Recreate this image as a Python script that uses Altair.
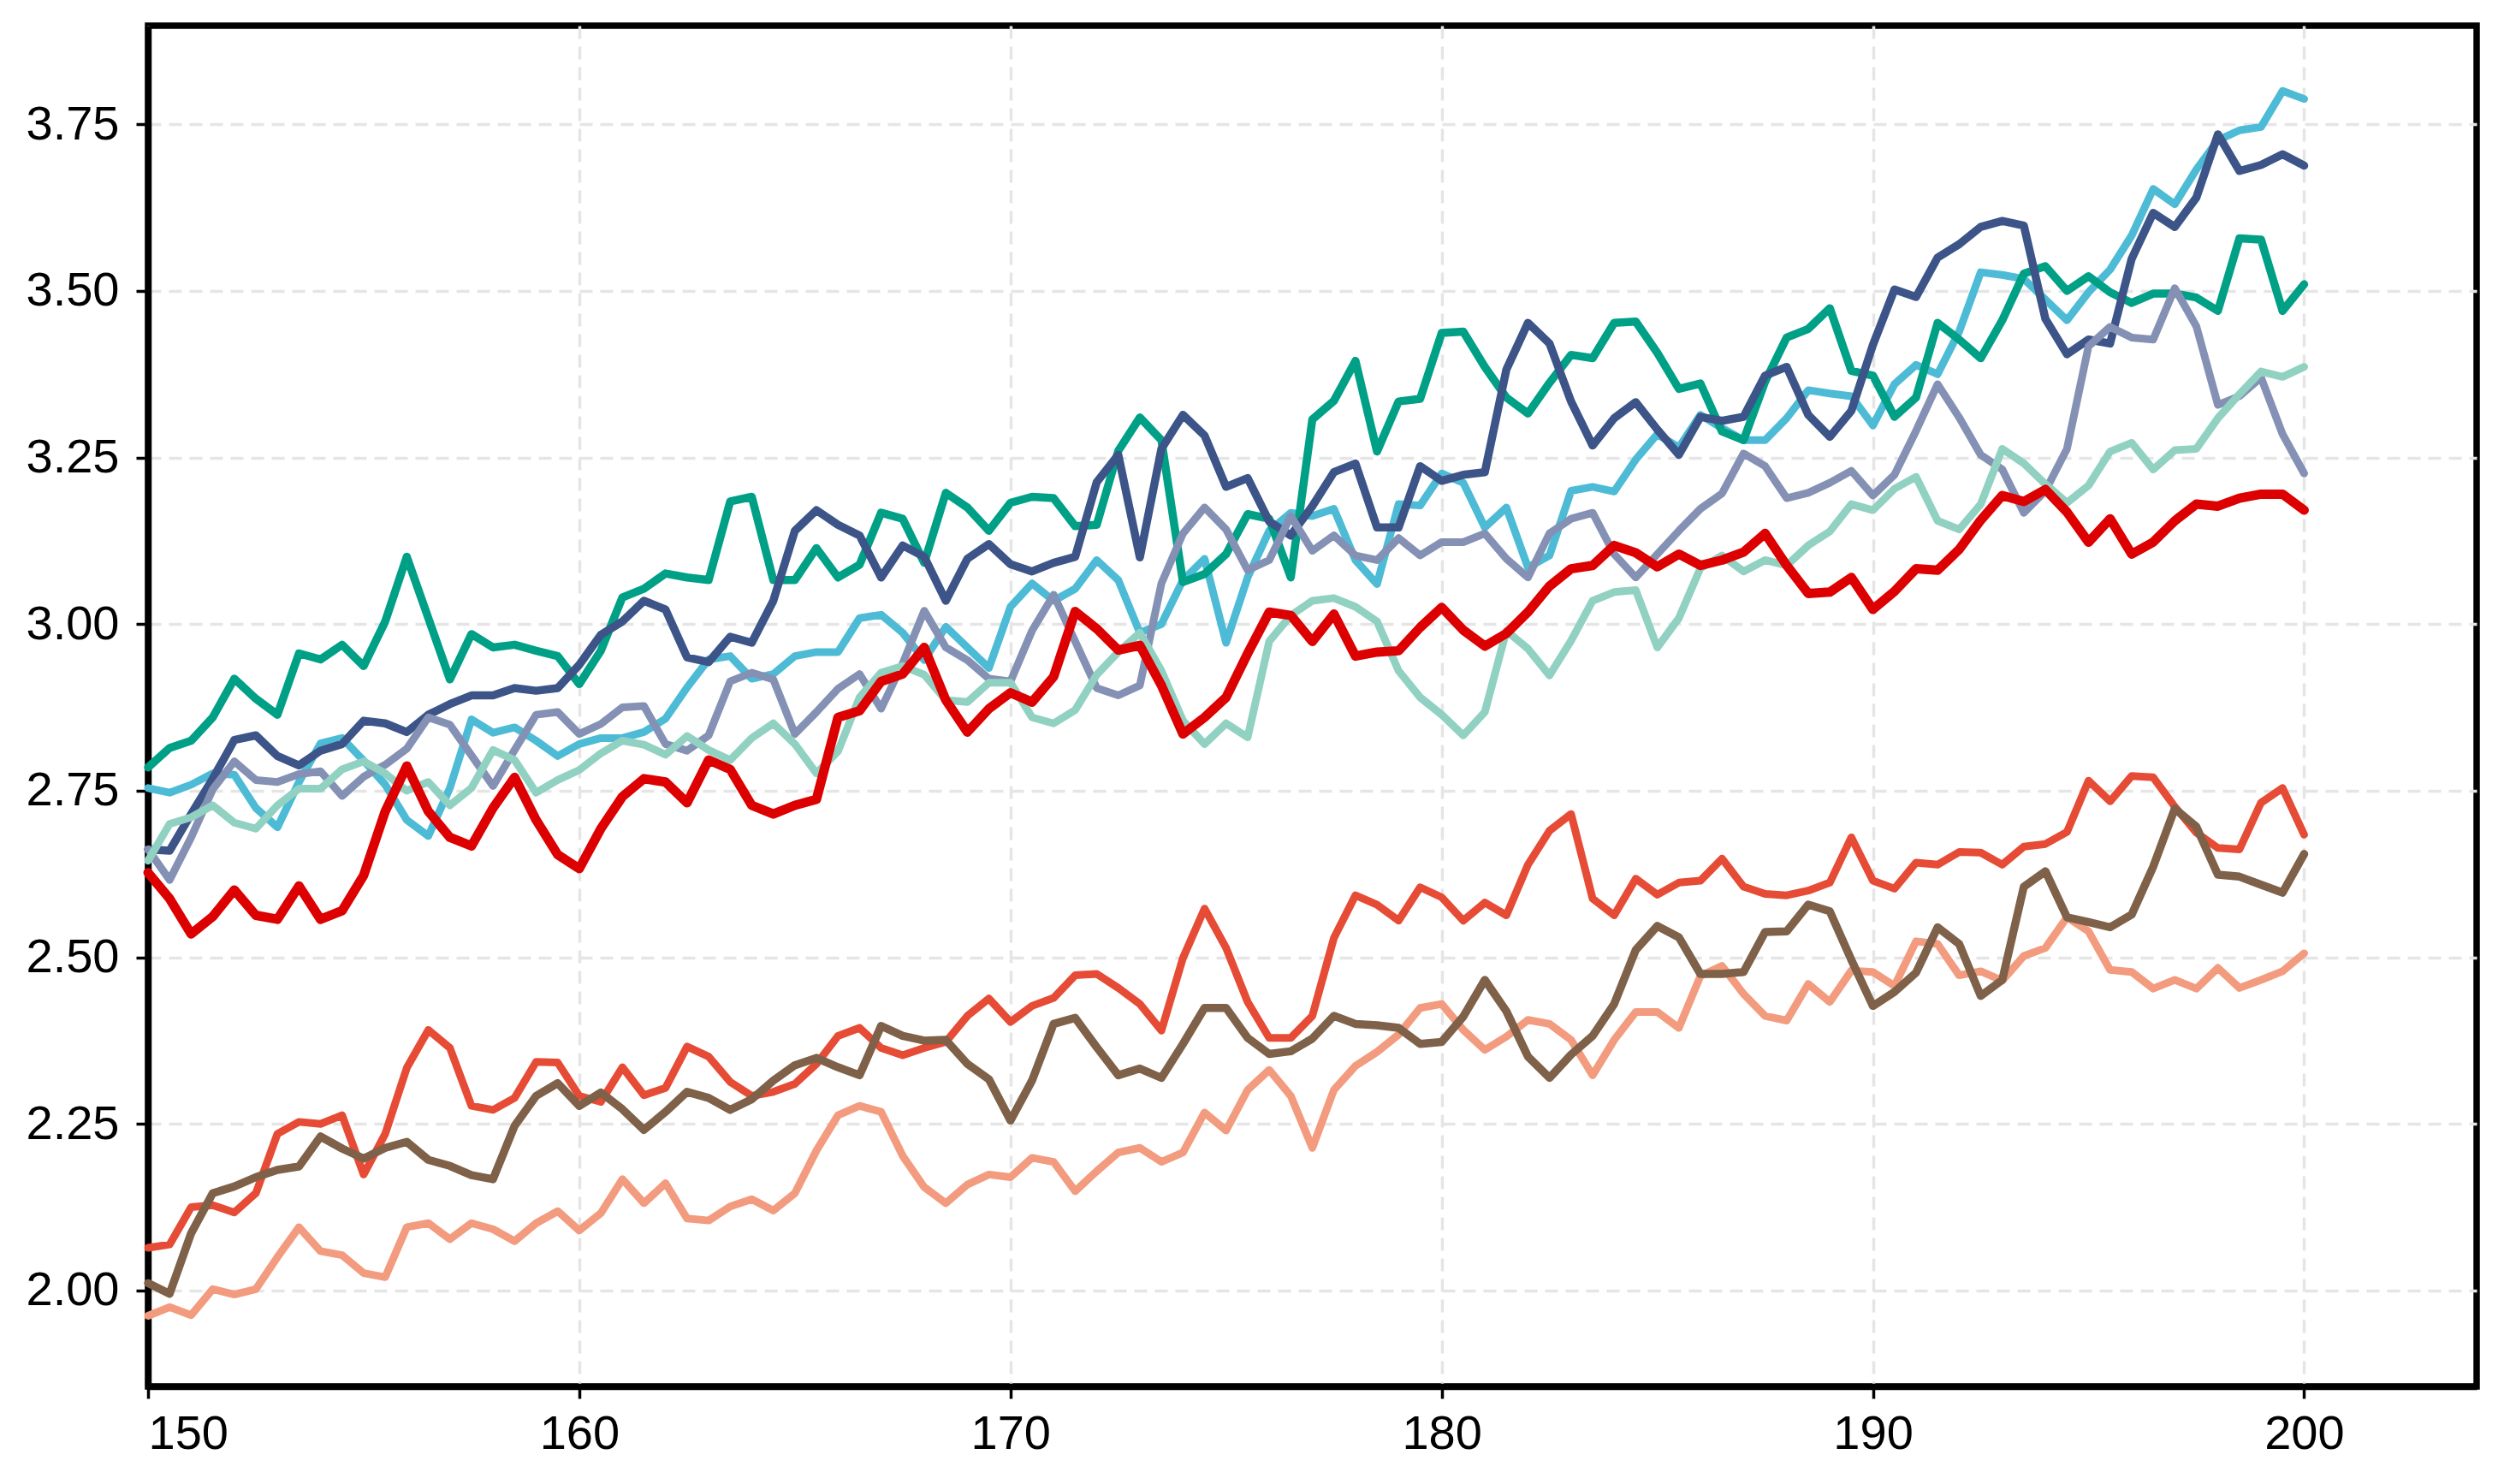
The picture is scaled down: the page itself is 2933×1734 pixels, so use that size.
import altair as alt
import pandas as pd

# x positions shared by all series (step 0.5 from 150 to 200)
x_values = [150 + 0.5 * i for i in range(101)]

x_ticks = [150, 160, 170, 180, 190, 200]
y_ticks = [2.00, 2.25, 2.50, 2.75, 3.00, 3.25, 3.50, 3.75]

s_e64b35 = [
    2.064, 2.069, 2.125, 2.128, 2.117, 2.146, 2.235, 2.253, 2.25, 2.263, 2.174, 2.235, 2.334, 2.391, 2.364, 2.277, 2.271, 2.289, 2.343, 2.342, 2.292, 2.283, 2.335, 2.293, 2.304, 2.366,
    2.351, 2.313, 2.292, 2.298, 2.31, 2.34, 2.382, 2.394, 2.364, 2.353, 2.364, 2.373, 2.412, 2.438, 2.403, 2.427, 2.439, 2.473, 2.475, 2.454, 2.43, 2.39, 2.499, 2.573, 2.514,
    2.433, 2.379, 2.379, 2.412, 2.529, 2.593, 2.579, 2.555, 2.605, 2.59, 2.555, 2.582, 2.563, 2.639, 2.69, 2.715, 2.588, 2.563, 2.618, 2.594, 2.612, 2.615, 2.648, 2.606, 2.595,
    2.593, 2.6, 2.612, 2.68, 2.615, 2.603, 2.642, 2.639, 2.658, 2.657, 2.639, 2.666, 2.67, 2.688, 2.765, 2.734, 2.772, 2.77, 2.726, 2.687, 2.664, 2.662, 2.732, 2.754, 2.684,
]
s_4dbbd5 = [
    2.754, 2.747, 2.759, 2.776, 2.774, 2.724, 2.695, 2.763, 2.821, 2.829, 2.795, 2.759, 2.706, 2.682, 2.754, 2.857, 2.837, 2.845, 2.825, 2.802, 2.82, 2.829, 2.829, 2.838, 2.858, 2.905,
    2.947, 2.952, 2.918, 2.925, 2.952, 2.958, 2.958, 3.009, 3.014, 2.987, 2.946, 2.996, 2.965, 2.934, 3.026, 3.061, 3.035, 3.053, 3.096, 3.066, 2.987, 3.0, 3.066, 3.098, 2.972,
    3.07, 3.14, 3.167, 3.162, 3.173, 3.096, 3.06, 3.18, 3.178, 3.226, 3.212, 3.145, 3.175, 3.085, 3.103, 3.2, 3.206, 3.199, 3.247, 3.285, 3.265, 3.314, 3.294, 3.276, 3.276,
    3.309, 3.351, 3.346, 3.342, 3.298, 3.36, 3.389, 3.375, 3.439, 3.528, 3.524, 3.518, 3.487, 3.456, 3.498, 3.532, 3.583, 3.653, 3.63, 3.682, 3.726, 3.741, 3.746, 3.8, 3.788,
]
s_00a087 = [
    2.785, 2.814, 2.825, 2.86, 2.918, 2.888, 2.864, 2.956, 2.947, 2.969, 2.937, 3.004, 3.101, 3.009, 2.917, 2.985, 2.965, 2.969, 2.96, 2.952, 2.91, 2.96, 3.04, 3.053, 3.076, 3.07,
    3.066, 3.184, 3.191, 3.066, 3.066, 3.114, 3.07, 3.089, 3.167, 3.158, 3.092, 3.197, 3.175, 3.14, 3.182, 3.191, 3.189, 3.147, 3.149, 3.26, 3.31, 3.276, 3.063, 3.075, 3.105,
    3.165, 3.158, 3.07, 3.307, 3.335, 3.395, 3.259, 3.334, 3.338, 3.437, 3.439, 3.386, 3.34, 3.316, 3.362, 3.404, 3.399, 3.452, 3.454, 3.407, 3.353, 3.361, 3.289, 3.276, 3.364,
    3.43, 3.443, 3.474, 3.38, 3.373, 3.311, 3.34, 3.452, 3.427, 3.399, 3.456, 3.526, 3.537, 3.5, 3.522, 3.498, 3.482, 3.496, 3.496, 3.49, 3.47, 3.579, 3.577, 3.47, 3.51,
]
s_3c5488 = [
    2.662, 2.66, 2.715, 2.768, 2.826, 2.833, 2.802, 2.788, 2.81, 2.82, 2.855, 2.851, 2.838, 2.864, 2.88, 2.893, 2.893, 2.904, 2.9, 2.904, 2.939, 2.984, 3.004, 3.035, 3.022, 2.95,
    2.943, 2.981, 2.972, 3.035, 3.14, 3.171, 3.149, 3.133, 3.07, 3.118, 3.101, 3.035, 3.098, 3.12, 3.09, 3.079, 3.092, 3.101, 3.213, 3.254, 3.10, 3.263, 3.314, 3.283, 3.206,
    3.219, 3.154, 3.133, 3.177, 3.228, 3.241, 3.145, 3.145, 3.237, 3.215, 3.224, 3.228, 3.382, 3.452, 3.421, 3.334, 3.268, 3.309, 3.333, 3.292, 3.254, 3.311, 3.305, 3.311, 3.373,
    3.386, 3.314, 3.281, 3.32, 3.419, 3.502, 3.491, 3.55, 3.57, 3.596, 3.605, 3.598, 3.458, 3.405, 3.427, 3.421, 3.548, 3.617, 3.596, 3.64, 3.735, 3.68, 3.689, 3.705, 3.688,
]
s_f39b7f = [
    1.962, 1.975, 1.963, 2.002, 1.994, 2.002, 2.05, 2.095, 2.059, 2.053, 2.026, 2.02, 2.095, 2.101, 2.077, 2.101, 2.092, 2.074, 2.101, 2.119, 2.09, 2.116, 2.167, 2.131, 2.161, 2.108,
    2.105, 2.126, 2.137, 2.12, 2.146, 2.21, 2.263, 2.277, 2.268, 2.202, 2.155, 2.131, 2.159, 2.174, 2.17, 2.199, 2.193, 2.149, 2.179, 2.207, 2.214, 2.193, 2.207, 2.267, 2.24,
    2.301, 2.331, 2.292, 2.214, 2.301, 2.337, 2.358, 2.384, 2.424, 2.43, 2.391, 2.361, 2.381, 2.406, 2.4, 2.376, 2.323, 2.376, 2.418, 2.418, 2.394, 2.472, 2.487, 2.445, 2.412,
    2.405, 2.46, 2.433, 2.48, 2.478, 2.457, 2.524, 2.52, 2.473, 2.479, 2.465, 2.502, 2.514, 2.56, 2.539, 2.481, 2.478, 2.453, 2.466, 2.453, 2.484, 2.454, 2.466, 2.479, 2.506,
]
s_8491b4 = [
    2.662, 2.616, 2.68, 2.752, 2.794, 2.766, 2.763, 2.775, 2.779, 2.742, 2.771, 2.789, 2.813, 2.86, 2.849, 2.803, 2.757, 2.811, 2.864, 2.868, 2.835, 2.85, 2.875, 2.877, 2.82, 2.81,
    2.833, 2.914, 2.927, 2.917, 2.835, 2.868, 2.903, 2.925, 2.873, 2.941, 3.02, 2.965, 2.946, 2.918, 2.914, 2.99, 3.044, 2.974, 2.904, 2.893, 2.908, 3.061, 3.136, 3.175, 3.142,
    3.081, 3.096, 3.162, 3.11, 3.133, 3.103, 3.096, 3.129, 3.103, 3.123, 3.123, 3.136, 3.098, 3.07, 3.136, 3.158, 3.167, 3.105, 3.07, 3.105, 3.14, 3.173, 3.196, 3.256, 3.237,
    3.189, 3.197, 3.212, 3.23, 3.193, 3.224, 3.29, 3.36, 3.31, 3.254, 3.232, 3.167, 3.2, 3.263, 3.417, 3.446, 3.43, 3.427, 3.504, 3.447, 3.329, 3.342, 3.37, 3.285, 3.226,
]
s_91d1c2 = [
    2.645, 2.7, 2.71, 2.728, 2.702, 2.693, 2.728, 2.753, 2.753, 2.782, 2.794, 2.776, 2.75, 2.763, 2.728, 2.754, 2.811, 2.796, 2.747, 2.766, 2.781, 2.806, 2.825, 2.819, 2.804, 2.832,
    2.811, 2.796, 2.829, 2.851, 2.82, 2.776, 2.809, 2.89, 2.927, 2.937, 2.924, 2.886, 2.883, 2.912, 2.912, 2.86, 2.851, 2.871, 2.924, 2.958, 2.987, 2.93, 2.855, 2.82, 2.851,
    2.83, 2.974, 3.013, 3.035, 3.039, 3.026, 3.004, 2.93, 2.89, 2.864, 2.833, 2.868, 2.99, 2.963, 2.923, 2.975, 3.035, 3.048, 3.051, 2.965, 3.009, 3.084, 3.103, 3.079, 3.096,
    3.088, 3.118, 3.139, 3.18, 3.171, 3.203, 3.221, 3.155, 3.142, 3.18, 3.263, 3.241, 3.21, 3.182, 3.208, 3.259, 3.272, 3.232, 3.261, 3.263, 3.309, 3.345, 3.379, 3.371, 3.386,
]
s_dc0000 = [
    2.627, 2.588, 2.535, 2.561, 2.601, 2.563, 2.557, 2.607, 2.557, 2.57, 2.623, 2.719, 2.787, 2.719, 2.68, 2.667, 2.724, 2.77, 2.706, 2.654, 2.633, 2.693, 2.741, 2.768, 2.763, 2.732,
    2.796, 2.782, 2.728, 2.715, 2.728, 2.737, 2.86, 2.87, 2.914, 2.925, 2.965, 2.886, 2.838, 2.873, 2.897, 2.883, 2.921, 3.019, 2.993, 2.961, 2.968, 2.908, 2.835, 2.86, 2.89,
    2.956, 3.018, 3.013, 2.974, 3.015, 2.952, 2.958, 2.96, 2.995, 3.025, 2.991, 2.967, 2.986, 3.018, 3.057, 3.083, 3.088, 3.118, 3.107, 3.086, 3.105, 3.088, 3.096, 3.108, 3.136,
    3.088, 3.046, 3.048, 3.07, 3.022, 3.049, 3.083, 3.081, 3.112, 3.156, 3.193, 3.184, 3.202, 3.168, 3.123, 3.158, 3.105, 3.123, 3.155, 3.18, 3.177, 3.189, 3.195, 3.195, 3.171,
]
s_7e6148 = [
    2.011, 1.995, 2.086, 2.146, 2.156, 2.17, 2.181, 2.186, 2.231, 2.213, 2.198, 2.214, 2.223, 2.196, 2.187, 2.173, 2.167, 2.247, 2.292, 2.311, 2.277, 2.297, 2.272, 2.241, 2.268, 2.298,
    2.289, 2.271, 2.287, 2.315, 2.338, 2.349, 2.335, 2.323, 2.397, 2.382, 2.375, 2.376, 2.34, 2.317, 2.255, 2.315, 2.4, 2.409, 2.365, 2.323, 2.333, 2.319, 2.37, 2.424, 2.424,
    2.379, 2.355, 2.359, 2.378, 2.412, 2.4, 2.398, 2.394, 2.37, 2.373, 2.411, 2.466, 2.419, 2.351, 2.319, 2.354, 2.382, 2.43, 2.511, 2.547, 2.53, 2.475, 2.475, 2.478, 2.538,
    2.539, 2.579, 2.569, 2.496, 2.427, 2.448, 2.477, 2.545, 2.52, 2.442, 2.466, 2.606, 2.629, 2.56, 2.553, 2.545, 2.564, 2.636, 2.723, 2.696, 2.624, 2.621, 2.609, 2.597, 2.655,
]

series = [
    ("E64B35", s_e64b35, "#E64B35", 9),
    ("4DBBD5", s_4dbbd5, "#4DBBD5", 9),
    ("00A087", s_00a087, "#00A087", 9.5),
    ("3C5488", s_3c5488, "#3C5488", 9.5),
    ("F39B7F", s_f39b7f, "#F39B7F", 9),
    ("8491B4", s_8491b4, "#8491B4", 9),
    ("91D1C2", s_91d1c2, "#91D1C2", 9),
    ("DC0000", s_dc0000, "#DC0000", 11),
    ("7E6148", s_7e6148, "#7E6148", 9.5),
]

FONT = "Liberation Sans"
GRID = dict(grid=True, gridColor="#e5e5e5", gridDash=[15, 9], gridWidth=3.5)
TICKS = dict(ticks=True, tickColor="black", tickSize=14, tickWidth=3.5)
DOMAIN = dict(domain=True, domainColor="black", domainWidth=7.5)
LABELS = dict(labelFont=FONT, labelFontSize=56, labelColor="black")

x_enc = alt.X(
    "x:Q",
    scale=alt.Scale(domain=[150, 204], nice=False, zero=False),
    axis=alt.Axis(values=x_ticks, format="d", title=None, labelPadding=14,
                  **GRID, **TICKS, **DOMAIN, **LABELS),
)
y_enc = alt.Y(
    "y:Q",
    scale=alt.Scale(domain=[1.856, 3.898], nice=False, zero=False),
    axis=alt.Axis(values=y_ticks, format=".2f", title=None, labelPadding=20,
                  **GRID, **TICKS, **DOMAIN, **LABELS),
)

layers = []
for name, vals, color, width in series:
    assert len(vals) == len(x_values), (name, len(vals))
    df = pd.DataFrame({"x": x_values, "y": vals, "series": name})
    layers.append(
        alt.Chart(df)
        .mark_line(color=color, strokeWidth=width, strokeCap="round", strokeJoin="round")
        .encode(x=x_enc, y=y_enc)
    )

chart = (
    alt.layer(*layers)
    .properties(
        width=2721,
        height=1590,
        autosize=alt.AutoSizeParams(type="none"),
        padding={"left": 165, "top": 22, "right": 31, "bottom": 106},
        background="white",
    )
    .configure_view(stroke="black", strokeWidth=7.5)
)

chart.save("out.html", embed_options={"renderer": "svg", "actions": False})
